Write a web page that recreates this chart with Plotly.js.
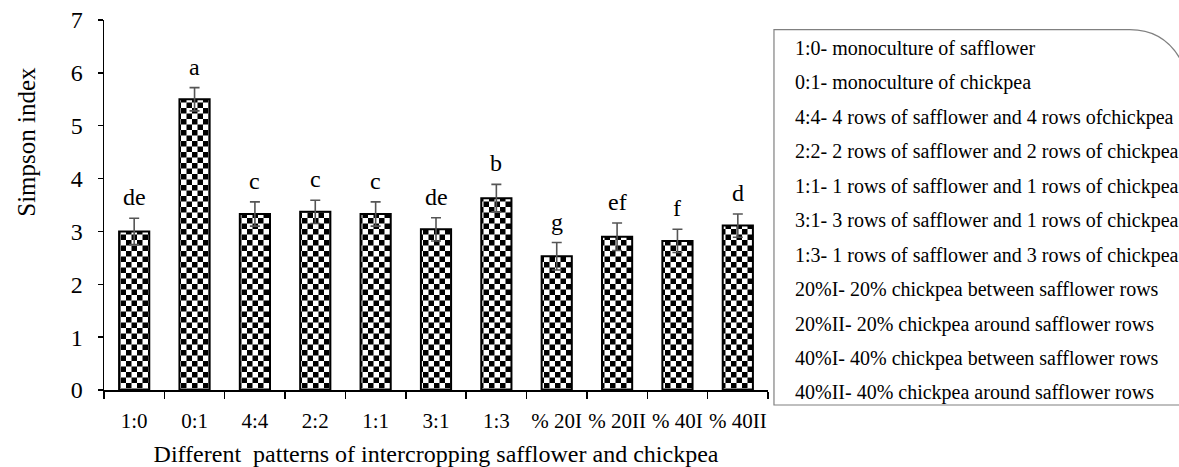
<!DOCTYPE html>
<html>
<head>
<meta charset="utf-8">
<script src="https://cdn.plot.ly/plotly-3.0.1.min.js"></script>
<style>
html,body{margin:0;padding:0;background:#fff;overflow:hidden;}
#chart{width:1179px;height:467px;}
</style>
</head>
<body>
<div id="chart"></div>
<script>
// ---- data ----
const categories = ['1:0','0:1','4:4','2:2','1:1','3:1','1:3','% 20I','% 20II','% 40I','% 40II'];
const simpson = [3.00, 5.50, 3.33, 3.37, 3.33, 3.04, 3.63, 2.53, 2.90, 2.82, 3.11];
const errors  = [0.25, 0.22, 0.23, 0.22, 0.23, 0.22, 0.26, 0.26, 0.26, 0.22, 0.22];
const letters = ['de','a','c','c','c','de','b','g','ef','f','d'];
const legendLines = [
  '1:0- monoculture of safflower',
  '0:1- monoculture of chickpea',
  '4:4- 4 rows of safflower and 4 rows ofchickpea',
  '2:2- 2 rows of safflower and 2 rows of chickpea',
  '1:1- 1 rows of safflower and 1 rows of chickpea',
  '3:1- 3 rows of safflower and 1 rows of chickpea',
  '1:3- 1 rows of safflower and 3 rows of chickpea',
  '20%I- 20% chickpea between safflower rows',
  '20%II- 20% chickpea around safflower rows',
  '40%I- 40% chickpea between safflower rows',
  '40%II- 40% chickpea around safflower rows'
];
const xTitle = 'Different  patterns of intercropping safflower and chickpea';
const yTitle = 'Simpson index';

const FONT = 'Liberation Serif';

const trace = {
  type: 'bar',
  x: categories,
  y: simpson,
  error_y: {type: 'data', array: errors, visible: true, color: '#555555', thickness: 1.6, width: 5},
  marker: {
    color: 'white',
    line: {color: 'black', width: 2},
    pattern: {shape: '.', size: 11, solidity: 0.5, fgcolor: 'black', bgcolor: 'white', fillmode: 'replace'}
  },
  hoverinfo: 'x+y',
  showlegend: false
};

const annotations = [];
categories.forEach((c, i) => {
  annotations.push({
    x: c, y: simpson[i] + errors[i], xref: 'x', yref: 'y',
    text: letters[i], showarrow: false, yanchor: 'middle', yshift: 21,
    font: {family: FONT, size: 24, color: 'black'}
  });
});
// y-axis title placed as in the reference (above centre)
annotations.push({
  x: -0.118, y: 0.67, xref: 'paper', yref: 'paper', text: yTitle, textangle: -90,
  showarrow: false, xanchor: 'center', yanchor: 'middle',
  font: {family: FONT, size: 25, color: 'black'}
});
// text legend box
const legTop = 0.923, legStep = 0.0931;
legendLines.forEach((t, i) => {
  annotations.push({
    x: 1.038, y: legTop - i * legStep, xref: 'paper', yref: 'paper',
    text: t, showarrow: false, xanchor: 'left', yanchor: 'middle', align: 'left',
    font: {family: FONT, size: 20, color: 'black'}
  });
});

const layout = {
  width: 1179, height: 467,
  margin: {l: 104, r: 411, t: 20, b: 77, pad: 0},
  paper_bgcolor: 'white', plot_bgcolor: 'white',
  font: {family: FONT, color: 'black'},
  bargap: 0.5,
  showlegend: false,
  xaxis: {
    type: 'category', range: [-0.5, 10.5],
    showline: true, linecolor: 'black', linewidth: 1.5,
    ticks: 'outside', tickson: 'boundaries', ticklen: 7, tickwidth: 1.5, tickcolor: 'black',
    showgrid: false, zeroline: false, tickangle: 0, automargin: false,
    tickfont: {family: FONT, size: 21, color: 'black'},
    ticklabelstandoff: 11,
    title: {text: xTitle, font: {family: FONT, size: 24, color: 'black'}, standoff: 13}
  },
  yaxis: {
    range: [0, 7], dtick: 1, tick0: 0,
    showline: true, linecolor: 'black', linewidth: 1.5,
    ticks: 'outside', ticklen: 5, tickwidth: 1.5, tickcolor: 'black',
    showgrid: false, zeroline: false, automargin: false,
    tickfont: {family: FONT, size: 24, color: 'black'},
    ticklabelstandoff: 10
  },
  annotations: annotations,
  shapes: [{
    type: 'path', xref: 'paper', yref: 'paper',
    path: 'M 1.009,-0.0405 L 1.009,0.974 L 1.545,0.974 Q 1.60,0.974 1.625,0.88 L 1.625,-0.0405 Z',
    line: {color: '#808080', width: 1.2}, fillcolor: 'rgba(0,0,0,0)', layer: 'below'
  }]
};

function checker(gd) {
  const NS = 'http://www.w3.org/2000/svg';
  gd.querySelectorAll('pattern').forEach(p => {
    const s = parseFloat(p.getAttribute('width')) || 10;
    while (p.firstChild) p.removeChild(p.firstChild);
    const mk = (x, y, w, h, f) => {
      const r = document.createElementNS(NS, 'rect');
      r.setAttribute('x', x); r.setAttribute('y', y);
      r.setAttribute('width', w); r.setAttribute('height', h);
      r.setAttribute('fill', f);
      p.appendChild(r);
    };
    mk(0, 0, s, s, 'white');
    mk(0, 0, s / 2, s / 2, 'black');
    mk(s / 2, s / 2, s / 2, s / 2, 'black');
  });
}

const gd = document.getElementById('chart');
Plotly.newPlot(gd, [trace], layout, {displayModeBar: false, staticPlot: true}).then(() => checker(gd));
</script>
</body>
</html>
